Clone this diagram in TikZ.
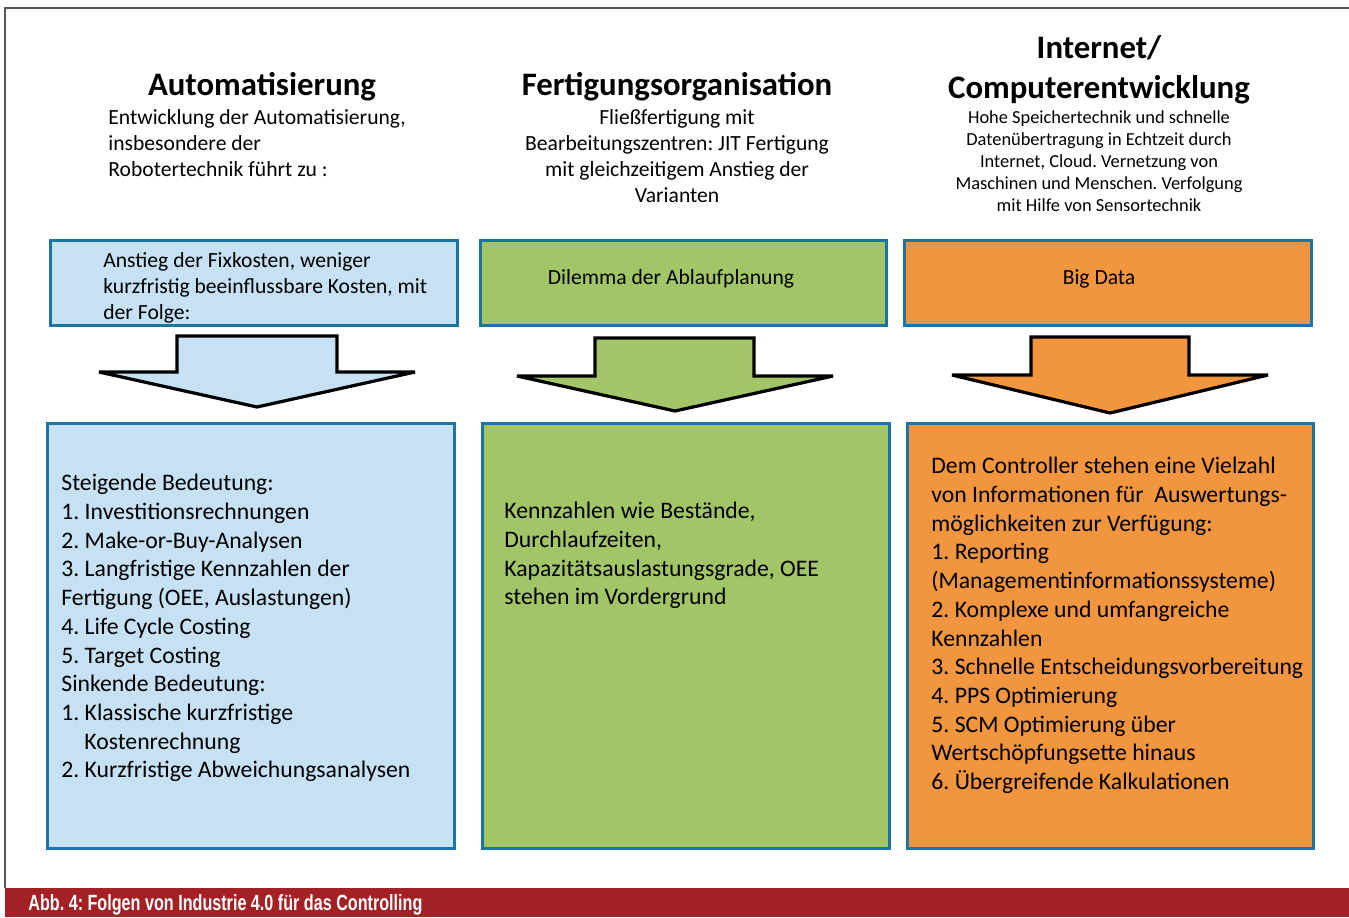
\documentclass[tikz,border=0pt]{standalone}
\usepackage{graphicx}
\usepackage{fontspec}
\setmainfont{Carlito}
\newfontfamily\capfont{Liberation Sans}
\usetikzlibrary{positioning}
\frenchspacing

\definecolor{boxline}{HTML}{1B75A3}
\definecolor{autoblue}{HTML}{C6E1F4}
\definecolor{fertgreen}{HTML}{A2C567}
\definecolor{netorange}{HTML}{F1953F}
\definecolor{capred}{HTML}{A32024}
\definecolor{framegray}{HTML}{555555}

\begin{document}
\begin{tikzpicture}[x=0.5pt,y=-0.5pt]
			\tikzstyle{Head}	= [font=\fontsize{16.4}{20}\selectfont\bfseries, align=center, inner sep=0pt]
			\tikzstyle{Sub}		= [font=\fontsize{10.8}{13}\selectfont, inner sep=0pt]
			\tikzstyle{Small}	= [font=\fontsize{9.2}{11}\selectfont, align=center, inner sep=0pt]
			\tikzstyle{Body}	= [font=\fontsize{11.85}{14.35}\selectfont, align=left, inner sep=0pt, anchor=north west]
			\tikzstyle{Box}		= [draw=boxline, line width=1.5pt]
			\tikzstyle{Arrow}	= [draw=black, line width=1.6pt, line join=miter, miter limit=1.5]
			\tikzstyle{AUTO}	= [fill=autoblue]
			\tikzstyle{FERT}	= [fill=fertgreen]
			\tikzstyle{NET}		= [fill=netorange]

			\useasboundingbox (0,0) rectangle (1349,917);

			% frame and caption bar
			\draw [framegray, line width=0.8pt] (1349,8) -- (5,8) -- (5,888);
			\fill [capred] (5,888) rectangle (1349,917);
			\node (cap) at (28,905) [anchor=west, text=white, inner sep=0pt]
				{\capfont\bfseries\fontsize{11}{13}\selectfont\resizebox{197pt}{\height}{Abb. 4: Folgen von Industrie 4.0 für das Controlling}};

			% column heads
			\node (h1) at (262,87) [Head] {Automatisierung};
			\node (h2) at (677,87) [Head] {Fertigungsorganisation};
			\node (h3) at (1099,70) [Head] {Internet/\\Computerentwicklung};

			\node (s1) at (108,109) [Sub, anchor=north west, align=left]
				{Entwicklung der Automatisierung,\\insbesondere der\\Robotertechnik führt zu :};
			\node (s2) at (677,109) [Sub, anchor=north, align=center]
				{Fließfertigung mit\\Bearbeitungszentren: JIT Fertigung\\mit gleichzeitigem Anstieg der\\Varianten};
			\node (s3) at (1099,110) [Small, anchor=north]
				{Hohe Speichertechnik und schnelle\\Datenübertragung in Echtzeit durch\\Internet, Cloud. Vernetzung von\\Maschinen und Menschen. Verfolgung\\mit Hilfe von Sensortechnik};

			% upper boxes
			\draw [Box][AUTO] (50,240) rectangle (457,325);
			\draw [Box][FERT] (480,240) rectangle (886,325);
			\draw [Box][NET] (904,240) rectangle (1311,325);

			\node (t1) at (103,252) [Sub, anchor=north west, align=left]
				{Anstieg der Fixkosten, weniger\\kurzfristig beeinflussbare Kosten, mit\\der Folge:};
			\node (t2) at (671,279) [Sub] {Dilemma der Ablaufplanung};
			\node (t3) at (1099,279) [Sub] {Big Data};

			% block arrows
			\draw [Arrow][AUTO] (177,336) -- (337,336) -- (337,372) -- (415,372) -- (257,407) -- (99,372) -- (177,372) -- cycle;
			\draw [Arrow][FERT] (595,338) -- (754,338) -- (754,376) -- (833,376) -- (675,411) -- (517,376) -- (595,376) -- cycle;
			\draw [Arrow][NET] (1031,337) -- (1189,337) -- (1189,375) -- (1268,375) -- (1110,413) -- (952,375) -- (1031,375) -- cycle;

			% lower boxes
			\draw [Box][AUTO] (47,423) rectangle (454,848);
			\draw [Box][FERT] (482,423) rectangle (889,848);
			\draw [Box][NET] (907,423) rectangle (1313,848);

			\node (b1) at (61,474) [Body]
				{Steigende Bedeutung:\\
				1. Investitionsrechnungen\\
				2. Make-or-Buy-Analysen\\
				3. Langfristige Kennzahlen der\\
				Fertigung (OEE, Auslastungen)\\
				4. Life Cycle Costing\\
				5. Target Costing\\
				Sinkende Bedeutung:\\
				1. Klassische kurzfristige\\
				\hspace*{11.5pt}Kostenrechnung\\
				2. Kurzfristige Abweichungsanalysen};
			\node (b2) at (504,502) [Body]
				{Kennzahlen wie Bestände,\\
				Durchlaufzeiten,\\
				Kapazitätsauslastungsgrade, OEE\\
				stehen im Vordergrund};
			\node (b3) at (931,457) [Body]
				{Dem Controller stehen eine Vielzahl\\
				von Informationen für\ \ Auswertungs-\\
				möglichkeiten zur Verfügung:\\
				1. Reporting\\
				(Managementinformationssysteme)\\
				2. Komplexe und umfangreiche\\
				Kennzahlen\\
				3. Schnelle Entscheidungsvorbereitung\\
				4. PPS Optimierung\\
				5. SCM Optimierung über\\
				Wertschöpfungsette hinaus\\
				6. Übergreifende Kalkulationen};
		\end{tikzpicture}
\end{document}
